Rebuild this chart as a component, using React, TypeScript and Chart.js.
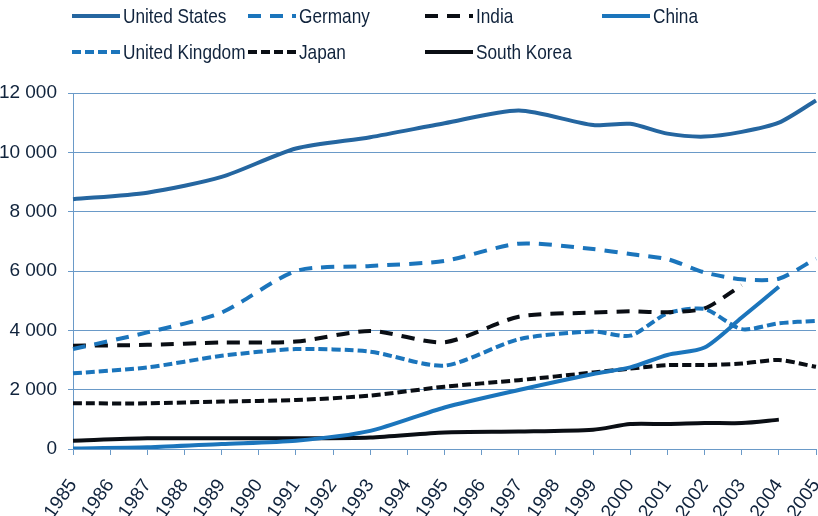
import React, { useEffect, useRef } from "react";
import { Chart, registerables } from "chart.js";

Chart.register(...registerables);

const years = ["1985","1986","1987","1988","1989","1990","1991","1992","1993","1994","1995","1996","1997","1998","1999","2000","2001","2002","2003","2004","2005"];

const unitedStates = [8420, null, 8640, null, 9170, null, 10130, null, 10510, null, 10980, null, 11410, null, 10920, 10960, 10630, 10530, 10690, 11000, 11750];
const germany = [3370, null, 3930, null, 4600, null, 6000, null, 6170, null, 6340, null, 6920, null, 6740, 6570, 6400, 5950, 5720, 5740, 6420];
const india = [3480, null, 3510, null, 3590, null, 3620, null, 3980, null, 3600, null, 4460, null, 4600, 4640, 4610, 4740, 5520, null, null];
const china = [20, null, 55, null, 170, null, 280, null, 610, null, 1400, null, 1990, null, 2530, 2750, 3170, 3420, 4430, 5470, null];
const unitedKingdom = [2550, null, 2750, null, 3140, null, 3370, null, 3280, null, 2810, null, 3700, null, 3960, 3820, 4570, 4720, 4040, 4240, 4320];
const japan = [1540, null, 1540, null, 1600, null, 1650, null, 1800, null, 2100, null, 2320, null, 2580, 2710, 2830, 2830, 2880, 3000, 2770];
const southKorea = [280, null, 360, null, 360, null, 360, null, 390, null, 560, null, 590, null, 650, 840, 840, 875, 875, 990, null];

const yTicks = [0, 2000, 4000, 6000, 8000, 10000, 12000];

const US_BLUE = "#2566a0";
const BLUE = "#1b75bc";
const BLACK = "#0a0e14";
const GRID = "#6a9ac8";
const TEXT = "#10233c";
const FONT = "'Liberation Sans', Arial, sans-serif";

const LONG_DASH = [13, 9];
const SHORT_DASH = [9, 4];

const series = [
  { label: "United States", data: unitedStates, color: US_BLUE, dash: [] as number[] },
  { label: "Germany", data: germany, color: BLUE, dash: LONG_DASH },
  { label: "India", data: india, color: BLACK, dash: LONG_DASH },
  { label: "China", data: china, color: BLUE, dash: [] as number[] },
  { label: "United Kingdom", data: unitedKingdom, color: BLUE, dash: SHORT_DASH },
  { label: "Japan", data: japan, color: BLACK, dash: SHORT_DASH },
  { label: "South Korea", data: southKorea, color: BLACK, dash: [] as number[] },
];

const legendCols = [72, 248, 425, 602];
const legendRows = [16, 52];

function fmt(v: number) {
  return String(v).replace(/\B(?=(\d{3})+(?!\d))/g, " ");
}

export default function App() {
  const ref = useRef<HTMLCanvasElement | null>(null);

  useEffect(() => {
    if (!ref.current) return;
    const chart = new Chart(ref.current, {
      type: "line",
      data: {
        labels: years,
        datasets: series.map((s) => ({
          label: s.label,
          data: s.data,
          borderColor: s.color,
          backgroundColor: s.color,
          borderWidth: 4,
          borderDash: s.dash,
          borderCapStyle: "butt",
          pointRadius: 0,
          pointHoverRadius: 0,
          tension: 0.25,
          spanGaps: true,
          fill: false,
        })),
      },
      options: {
        responsive: false,
        animation: false,
        layout: { autoPadding: false, padding: { top: 93, right: 2, left: 0, bottom: 0 } },
        plugins: { legend: { display: false }, tooltip: { enabled: false } },
        scales: {
          x: {
            type: "category",
            offset: false,
            grid: { display: true, drawOnChartArea: false, drawTicks: true, tickLength: 6, color: GRID, lineWidth: 1 },
            border: { display: true, color: GRID, width: 1 },
            ticks: {
              autoSkip: false,
              minRotation: 55,
              maxRotation: 55,
              padding: 20,
              labelOffset: 0,
              color: TEXT,
              font: { family: FONT, size: 19 },
            },
            afterFit: (scale: any) => {
              scale.height = 67;
              scale.paddingLeft = 0;
              scale.paddingRight = 0;
            },
          },
          y: {
            min: 0,
            max: 12000,
            afterBuildTicks: (scale: any) => { scale.ticks = yTicks.map((v) => ({ value: v })); },
            grid: { color: GRID, lineWidth: 1, tickLength: 5, drawTicks: true },
            border: { display: true, color: GRID, width: 1 },
            ticks: {
              padding: 11,
              color: TEXT,
              font: { family: FONT, size: 19 },
              callback: (v: any) => fmt(Number(v)),
            },
            afterFit: (scale: any) => {
              scale.width = 73;
              scale.paddingTop = 0;
              scale.paddingBottom = 0;
            },
          },
        },
      },
    });
    return () => chart.destroy();
  }, []);

  return (
    <div style={{ position: "absolute", left: 0, top: 0, width: 818, height: 516, background: "#fff", overflow: "hidden" }}>
      <canvas ref={ref} width={818} height={516} style={{ position: "absolute", left: 0, top: 0, width: 818, height: 516 }} />
      {series.map((s, i) => {
        const col = legendCols[i % 4];
        const row = legendRows[Math.floor(i / 4)];
        return (
          <div key={s.label} style={{ position: "absolute", left: col, top: row - 14, height: 28, display: "flex", alignItems: "center", whiteSpace: "nowrap" }}>
            <svg width={48} height={10} style={{ display: "block" }}>
              <line x1={0} y1={5} x2={48} y2={5} stroke={s.color} strokeWidth={4} strokeDasharray={s.dash.length ? s.dash.join(" ") : undefined} />
            </svg>
            <span style={{ marginLeft: 3, fontFamily: FONT, fontSize: 21, color: TEXT, lineHeight: "28px", display: "inline-block", transform: "scaleX(0.82)", transformOrigin: "left center" }}>{s.label}</span>
          </div>
        );
      })}
    </div>
  );
}
